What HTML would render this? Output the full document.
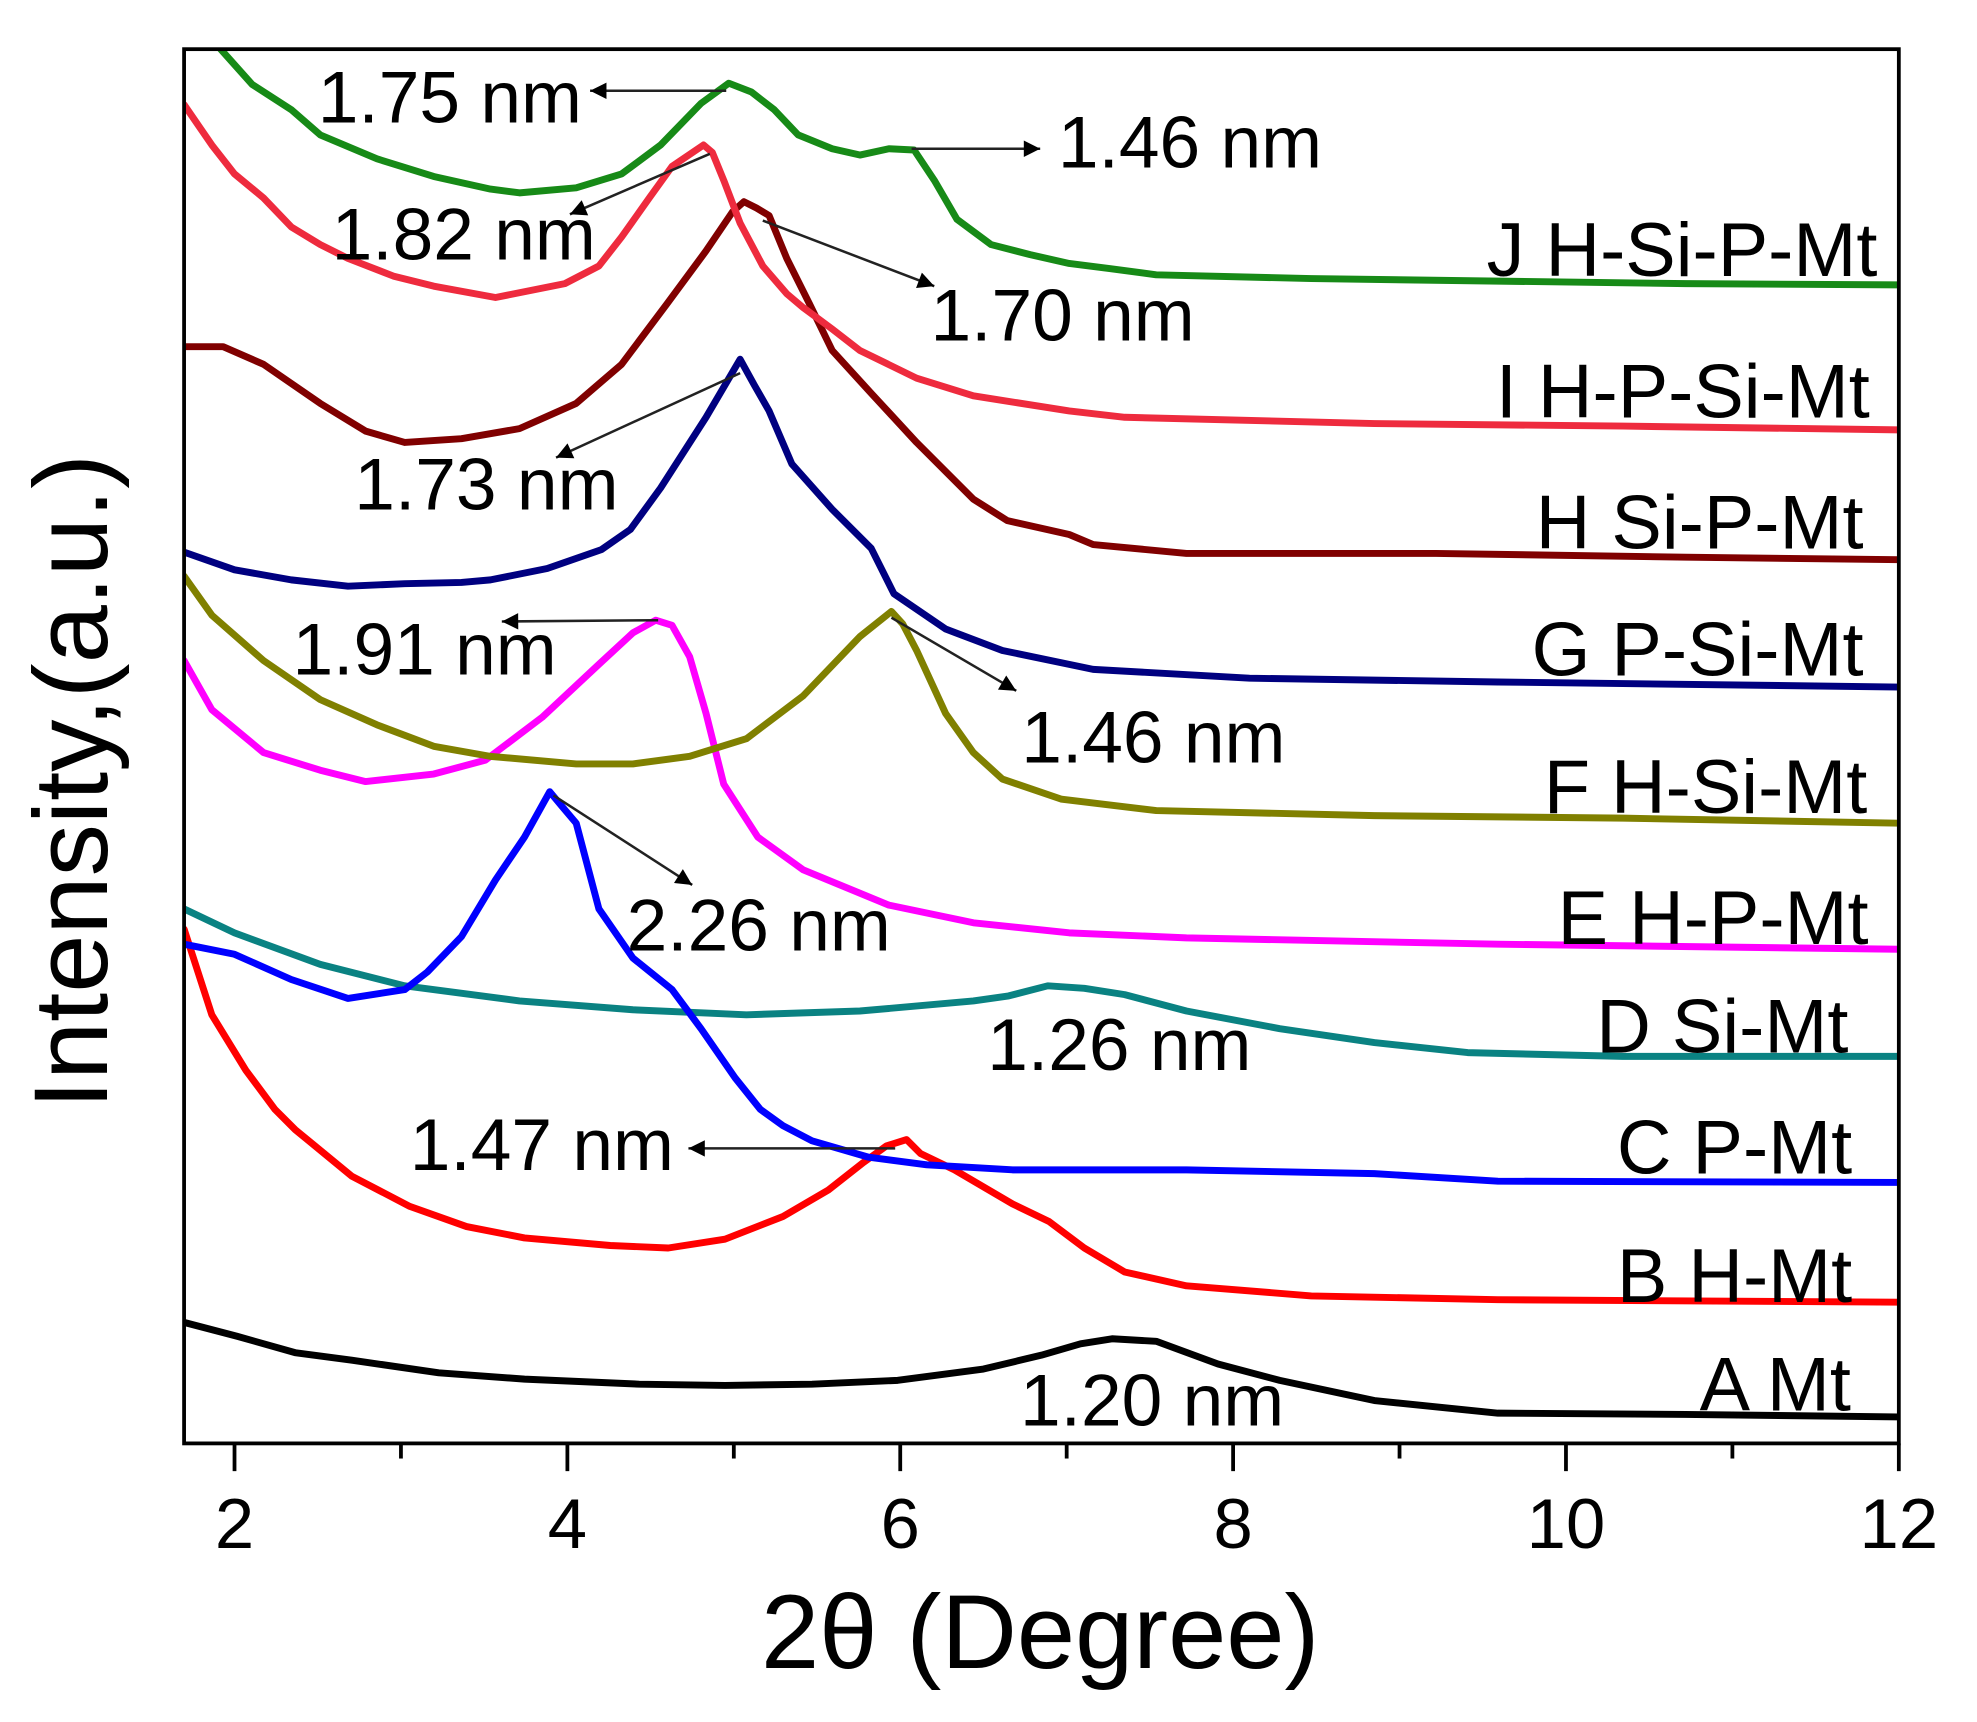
<!DOCTYPE html>
<html>
<head>
<meta charset="utf-8">
<style>
html,body{margin:0;padding:0;background:#fff;overflow:hidden;}
svg{display:block;}
text{font-family:"Liberation Sans",Arial,sans-serif;fill:#000;}
</style>
</head>
<body>
<svg width="1977" height="1722" viewBox="0 0 1568 1366" preserveAspectRatio="none" xmlns="http://www.w3.org/2000/svg">
<defs>
  <clipPath id="plot"><rect x="146" y="39" width="1360" height="1106"/></clipPath>
  <marker id="ah" viewBox="0 0 10 10" refX="10" refY="5" markerUnits="userSpaceOnUse" markerWidth="20" markerHeight="13" orient="auto">
    <path d="M0,0 L10,5 L0,10 z" fill="#000"/>
  </marker>
</defs>
<rect x="0" y="0" width="1568" height="1366" fill="#fff"/>

<g clip-path="url(#plot)" fill="none" stroke-width="5.5" stroke-linejoin="round" stroke-linecap="round">
  <!-- A Mt black -->
  <polyline stroke="#000" points="146,1049 188,1060 234,1073 279,1079 348,1089 416,1094 507,1098 575,1099 644,1098 712,1095 780,1086 826,1075 857,1066 882,1062 917,1064 966,1082 1015,1095 1090,1111 1188,1121 1337,1122 1506,1124"/>
  <!-- B H-Mt red -->
  <polyline stroke="#ff0000" points="146,737 168,805 195,849 218,880 234,896 279,933 325,957 370,973 416,982 484,988 530,990 575,983 621,965 657,944 685,922 703,909 719,904 730,915 757,928 803,955 832,969 860,990 892,1009 941,1020 1040,1028 1188,1031 1506,1033"/>
  <!-- D Si-Mt teal -->
  <polyline stroke="#0a8282" points="146,721 186,740 254,765 321,782 412,794 502,801 592,805 682,802 772,794 800,790 831,782 860,784 892,789 941,802 1015,816 1090,827 1164,835 1287,838 1506,838"/>
  <!-- C P-Mt blue -->
  <polyline stroke="#0000ff" points="146,749 186,757 231,777 276,792 321,785 339,771 366,743 393,698 416,664 436,628 446,640 457,653 475,721 502,760 533,785 556,816 583,855 603,880 621,893 644,905 689,918 735,924 803,928 941,928 1090,931 1188,937 1506,938"/>
  <!-- E H-P-Mt magenta -->
  <polyline stroke="#ff00ff" points="146,524 168,563 209,597 254,611 290,620 344,614 385,603 430,569 475,527 502,502 520,492 533,496 547,521 560,566 574,622 601,664 637,690 705,718 772,732 848,740 941,744 1188,749 1506,753"/>
  <!-- F H-Si-Mt olive -->
  <polyline stroke="#808000" points="146,457 168,488 209,524 254,555 299,575 344,592 389,600 457,606 502,606 547,600 592,586 637,552 682,505 707,485 716,495 727,516 750,566 772,597 795,618 842,634 917,643 1090,647 1287,649 1506,653"/>
  <!-- G P-Si-Mt navy -->
  <polyline stroke="#000080" points="146,438 186,452 231,460 276,465 321,463 366,462 389,460 434,451 477,436 500,420 524,387 560,331 587,285 598,305 610,326 628,368 660,404 691,435 709,471 750,499 795,516 848,527 867,531 991,538 1188,541 1506,545"/>
  <!-- H Si-P-Mt dark red -->
  <polyline stroke="#800000" points="146,275 177,275 209,289 254,320 290,342 321,351 366,348 412,340 457,320 493,289 529,241 560,199 581,168 590,160 600,165 610,171 624,205 642,241 660,278 691,312 727,351 772,396 799,413 848,424 867,432 941,439 1139,439 1337,442 1506,444"/>
  <!-- I H-P-Si-Mt light red -->
  <polyline stroke="#ee2b3e" points="146,83 168,115 186,138 209,157 231,180 254,194 276,205 312,219 344,227 393,236 448,225 475,211 493,188 515,157 533,132 558,115 565,121 574,143 587,177 605,211 624,233 637,244 660,261 682,278 727,300 772,314 848,326 892,331 1090,336 1287,338 1506,341"/>
  <!-- J H-Si-P-Mt green -->
  <polyline stroke="#178a17" points="172,32 175,39 200,67 231,87 254,107 299,126 344,140 389,150 412,153 457,149 493,138 524,115 556,82 578,66 596,73 614,87 633,107 660,118 682,123 705,118 725,119 741,143 759,174 786,194 817,202 848,209 880,213 917,218 1040,221 1188,223 1337,225 1506,226"/>
</g>

<!-- frame -->
<rect x="146" y="39" width="1360" height="1106" fill="none" stroke="#000" stroke-width="3"/>
<!-- ticks -->
<g stroke="#000" stroke-width="3">
  <line x1="186" y1="1145" x2="186" y2="1167"/>
  <line x1="318" y1="1145" x2="318" y2="1157"/>
  <line x1="450" y1="1145" x2="450" y2="1167"/>
  <line x1="582" y1="1145" x2="582" y2="1157"/>
  <line x1="714" y1="1145" x2="714" y2="1167"/>
  <line x1="846" y1="1145" x2="846" y2="1157"/>
  <line x1="978" y1="1145" x2="978" y2="1167"/>
  <line x1="1110" y1="1145" x2="1110" y2="1157"/>
  <line x1="1242" y1="1145" x2="1242" y2="1167"/>
  <line x1="1374" y1="1145" x2="1374" y2="1157"/>
  <line x1="1506" y1="1145" x2="1506" y2="1167"/>
</g>
<g font-size="56" text-anchor="middle">
  <text x="186" y="1228">2</text>
  <text x="450" y="1228">4</text>
  <text x="714" y="1228">6</text>
  <text x="978" y="1228">8</text>
  <text x="1242" y="1228">10</text>
  <text x="1506" y="1228">12</text>
</g>
<text x="825" y="1323" font-size="83" text-anchor="middle">2θ (Degree)</text>
<text transform="translate(85,620) rotate(-90)" font-size="83" text-anchor="middle">Intensity,(a.u.)</text>

<!-- arrows -->
<g stroke="#222" stroke-width="2" fill="none" marker-end="url(#ah)">
  <line x1="576" y1="72" x2="468" y2="72"/>
  <line x1="723" y1="118" x2="825" y2="118"/>
  <line x1="563" y1="122" x2="452" y2="170"/>
  <line x1="605" y1="175" x2="741" y2="227"/>
  <line x1="587" y1="296" x2="441" y2="363"/>
  <line x1="522" y1="492" x2="398" y2="493"/>
  <line x1="707" y1="490" x2="806" y2="548"/>
  <line x1="439" y1="631" x2="549" y2="702"/>
  <line x1="710" y1="911" x2="546" y2="911"/>
</g>

<!-- annotations -->
<g font-size="58">
  <text x="252" y="97">1.75 nm</text>
  <text x="839" y="133">1.46 nm</text>
  <text x="263" y="206">1.82 nm</text>
  <text x="738" y="270">1.70 nm</text>
  <text x="281" y="404">1.73 nm</text>
  <text x="232" y="535">1.91 nm</text>
  <text x="810" y="605">1.46 nm</text>
  <text x="497" y="754">2.26 nm</text>
  <text x="783" y="849">1.26 nm</text>
  <text x="325" y="928">1.47 nm</text>
  <text x="809" y="1131">1.20 nm</text>
</g>

<!-- series labels -->
<g font-size="60" text-anchor="end">
  <text x="1489" y="219">J H-Si-P-Mt</text>
  <text x="1483" y="331">I H-P-Si-Mt</text>
  <text x="1478" y="435">H Si-P-Mt</text>
  <text x="1478" y="536">G P-Si-Mt</text>
  <text x="1481" y="645">F H-Si-Mt</text>
  <text x="1482" y="749">E H-P-Mt</text>
  <text x="1466" y="835">D Si-Mt</text>
  <text x="1469" y="931">C P-Mt</text>
  <text x="1469" y="1033">B H-Mt</text>
  <text x="1468" y="1119">A Mt</text>
</g>
</svg>
</body>
</html>
